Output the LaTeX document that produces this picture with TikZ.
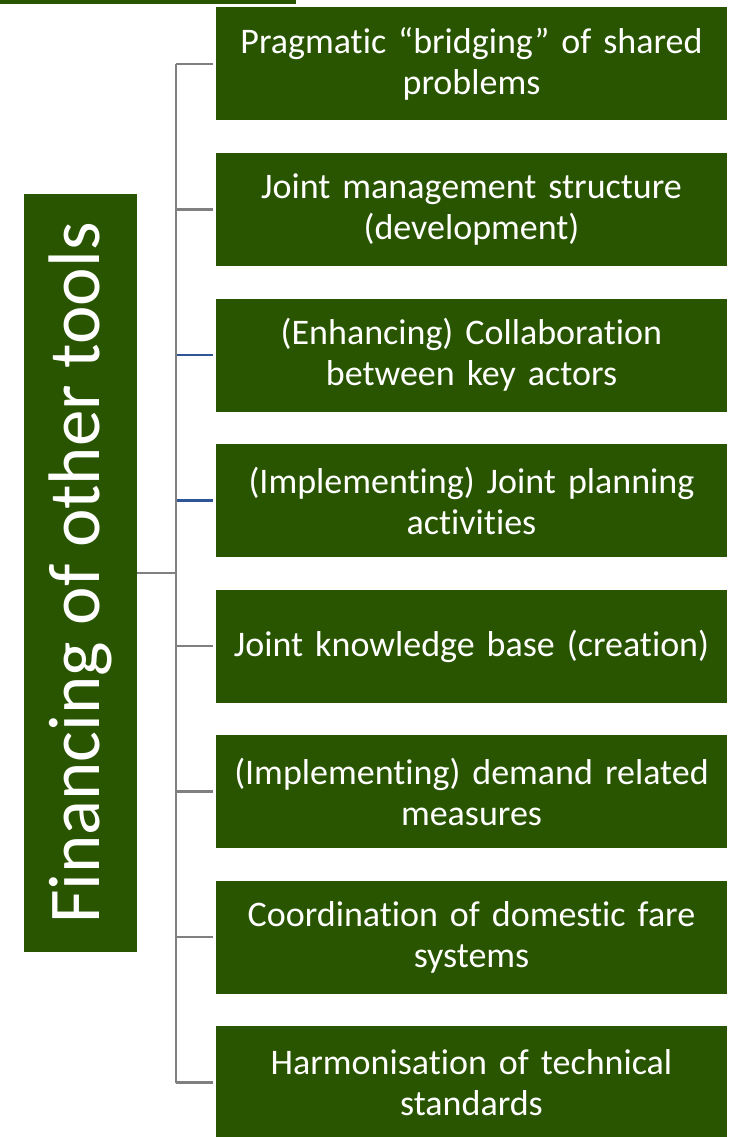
\documentclass[tikz,border=0pt]{standalone}
\usepackage{fontspec}
\setmainfont{Carlito}[Ligatures=NoCommon]
\usetikzlibrary{positioning}
\usetikzlibrary{calc}
\definecolor{leaf}{RGB}{42,85,0}
\definecolor{stem}{RGB}{128,128,128}
\definecolor{twig}{RGB}{47,85,151}

\begin{document}
\begin{tikzpicture}[x=1pt,y=-1pt,
	toolbox/.style={fill=leaf, text=white, minimum width=511pt, minimum height=113pt,
		text width=507pt, align=center, inner sep=0pt, font=\fontsize{36}{41}\selectfont},
	conn/.style={draw=stem, line width=2.5pt},
	blueconn/.style={draw=twig, line width=2.5pt}]
	\useasboundingbox (0,0) rectangle (738,1137);

	% Cut-off bar at the top
	\fill[leaf] (0,-2) rectangle (296,4);

	% Side box
	\node[fill=leaf, minimum width=113pt, minimum height=758pt, inner sep=0pt] (side) at (80.5,573) {};
	\node[rotate=90, text=white, font=\fontsize{73}{80}\selectfont] (sidetext) at (side.center) {Financing of other tools};

	% Tool boxes
	\node[toolbox] (b1) at (471.5,64) {Pragmatic “bridging” of shared\\problems};
	\node[toolbox] (b2) at (471.5,209.5) {Joint management structure\\(development)};
	\node[toolbox] (b3) at (471.5,355) {(Enhancing) Collaboration\\between key actors};
	\node[toolbox] (b4) at (471.5,500.5) {(Implementing) Joint planning\\activities};
	\node[toolbox] (b5) at (471.5,646) {Joint knowledge base (creation)};
	\node[toolbox] (b6) at (471.5,791.5) {(Implementing) demand related\\measures};
	\node[toolbox] (b7) at (471.5,937) {Coordination of domestic fare\\systems};
	\node[toolbox] (b8) at (471.5,1082.5) {Harmonisation of technical\\standards};

	% Trunk
	\coordinate (trunk) at (176,573);
	\draw[conn] (b1.west -| trunk) -- (b8.west -| trunk);
	\draw[conn] (side.east) -- (trunk);

	% Branches
	\draw[conn, shorten >=3pt] (b1.west -| trunk) -- (b1.west);
	\draw[conn, shorten >=3pt] (b2.west -| trunk) -- (b2.west);
	\draw[blueconn, shorten >=3pt, shorten <=1.2pt] (b3.west -| trunk) -- (b3.west);
	\draw[blueconn, shorten >=3pt, shorten <=1.2pt] (b4.west -| trunk) -- (b4.west);
	\draw[conn, shorten >=3pt] (b5.west -| trunk) -- (b5.west);
	\draw[conn, shorten >=3pt] (b6.west -| trunk) -- (b6.west);
	\draw[conn, shorten >=3pt] (b7.west -| trunk) -- (b7.west);
	\draw[conn, shorten >=3pt] (b8.west -| trunk) -- (b8.west);
\end{tikzpicture}
\end{document}
